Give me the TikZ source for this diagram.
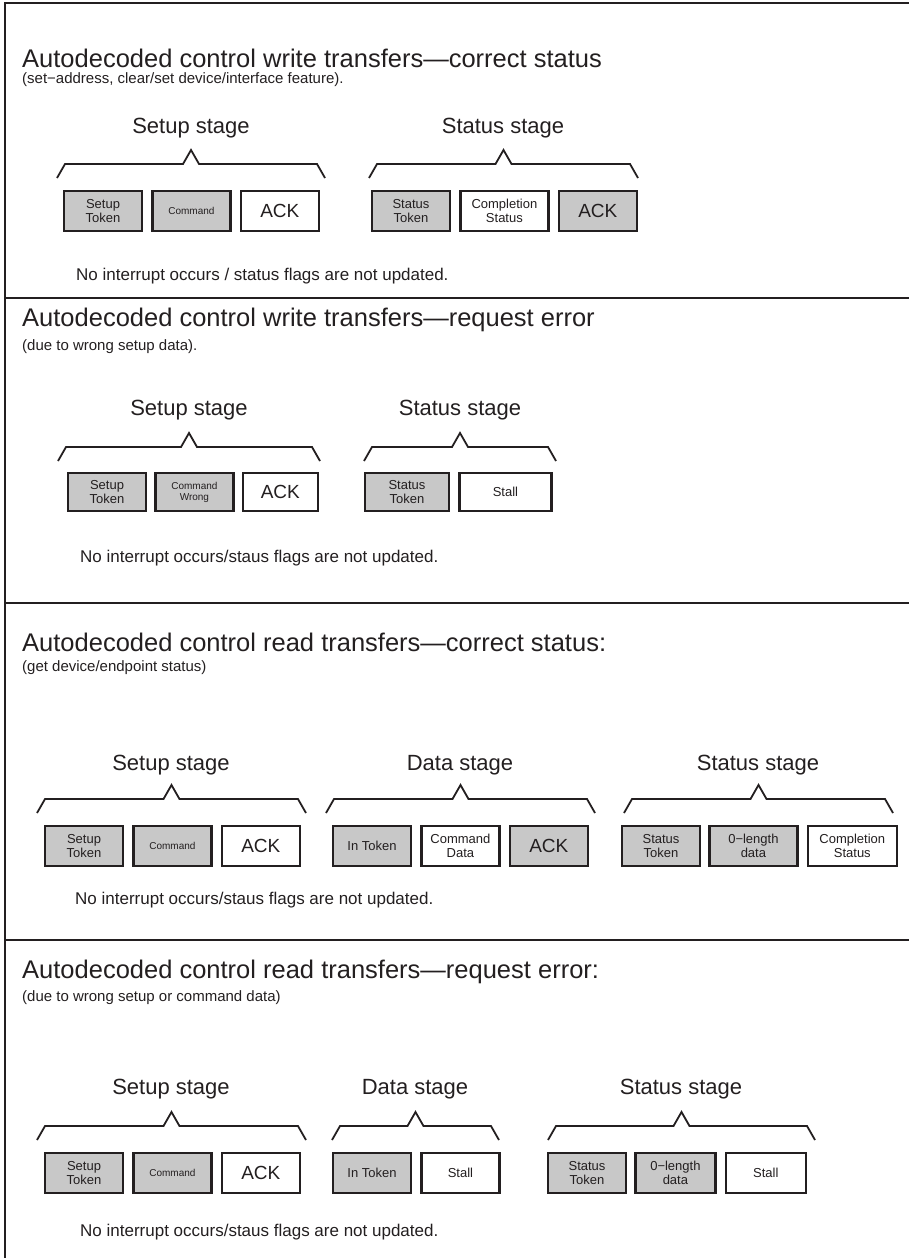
\documentclass[tikz,border=0pt]{standalone}
\usepackage{fontspec}
\setmainfont{Liberation Sans}
\usetikzlibrary{positioning}
\definecolor{ink}{HTML}{231F20}
\definecolor{tokgray}{HTML}{C8C8C8}

\begin{document}
\begin{tikzpicture}[x=1pt,y=-1pt,
    every node/.style={text=ink},
    frame/.style={ink,line width=2.4pt},
    brace/.style={ink,line width=1.8pt},
    pkt/.style={draw=ink,line width=2.4pt,minimum width=78pt,minimum height=40pt,
        inner sep=0pt,align=center,font=\fontsize{13}{14}\selectfont},
    tok/.style={pkt,fill=tokgray},
    hsk/.style={pkt,fill=white},
    tiny/.style={font=\fontsize{10}{11}\selectfont},
    big/.style={font=\fontsize{19}{20}\selectfont},
    title/.style={anchor=west,inner sep=0pt,font=\fontsize{25.5}{27}\selectfont},
    subtitle/.style={anchor=west,inner sep=0pt,font=\fontsize{15}{16}\selectfont},
    stage/.style={inner sep=0pt,font=\fontsize{22}{24}\selectfont},
    note/.style={anchor=west,inner sep=0pt,font=\fontsize{17}{18}\selectfont}]
    \useasboundingbox (0,0) rectangle (909,1258);
    % frame
    \draw[frame] (5,1258) -- (5,3) -- (909,3);
    \foreach \y in {298,603,940} \draw[frame] (5,\y) -- (909,\y);
    % braces: left/right/base
    \foreach \a/\b/\y in {57/325/164, 369/638/164,
                          58/320/447, 364/556/447,
                          37/306/799, 326/595/799, 624/893/799,
                          37/306/1126, 332/499/1126, 548/815/1126}
        \draw[brace] (\a,\y+14) -- ({\a+8},\y) -- ({(\a+\b)/2-8},\y)
            -- ({(\a+\b)/2},\y-14) -- ({(\a+\b)/2+8},\y) -- ({\b-8},\y) -- (\b,\y+14);

    % panel 1
    \node[title] (t1) at (22,58) {Autodecoded control write transfers---correct status};
    \node[subtitle] (u1) at (22,80) {(set−address, clear/set device/interface feature).};
    \node[stage] (g1a) at (191,128) {Setup stage};
    \node[stage] (g1b) at (503,128) {Status stage};
    \node[tok] (p1a) at (103,211) {Setup\\Token};
    \node[tok,tiny,right=8pt of p1a] (p1b) {Command};
    \node[hsk,big,right=8pt of p1b] (p1c) {ACK};
    \node[tok] (p1d) at (411,211) {Status\\Token};
    \node[hsk,minimum width=88pt,right=8pt of p1d] (p1e) {Completion\\Status};
    \node[tok,big,right=8pt of p1e] (p1f) {ACK};
    \node[note] (n1) at (76,276) {No interrupt occurs / status flags are not updated.};

    % panel 2
    \node[title] (t2) at (22,320) {Autodecoded control write transfers---request error};
    \node[subtitle] (u2) at (22,347) {(due to wrong setup data).};
    \node[stage] (g2a) at (189,410) {Setup stage};
    \node[stage] (g2b) at (460,410) {Status stage};
    \node[tok,minimum height=38pt] (p2a) at (107,492) {Setup\\Token};
    \node[tok,tiny,minimum height=38pt,right=7pt of p2a] (p2b) {Command\\Wrong};
    \node[hsk,big,minimum height=38pt,minimum width=75pt,right=7pt of p2b] (p2c) {ACK};
    \node[tok,minimum height=38pt,minimum width=84pt] (p2d) at (407,492) {Status\\Token};
    \node[hsk,minimum height=38pt,minimum width=92pt,right=8pt of p2d] (p2e) {Stall};
    \node[note] (n2) at (80,558) {No interrupt occurs/staus flags are not updated.};

    % panel 3
    \node[title] (t3) at (22,642) {Autodecoded control read transfers---correct status:};
    \node[subtitle] (u3) at (22,668) {(get device/endpoint status)};
    \node[stage] (g3a) at (171,765) {Setup stage};
    \node[stage] (g3b) at (460,765) {Data stage};
    \node[stage] (g3c) at (758,765) {Status stage};
    \node[tok] (p3a) at (84,846) {Setup\\Token};
    \node[tok,tiny,right=8pt of p3a] (p3b) {Command};
    \node[hsk,big,right=8pt of p3b] (p3c) {ACK};
    \node[tok] (p3d) at (372,846) {In Token};
    \node[hsk,right=8pt of p3d] (p3e) {Command\\Data};
    \node[tok,big,right=8pt of p3e] (p3f) {ACK};
    \node[tok] (p3g) at (661,846) {Status\\Token};
    \node[tok,minimum width=88pt,right=7pt of p3g] (p3h) {0−length\\data};
    \node[hsk,minimum width=89pt,right=8pt of p3h] (p3i) {Completion\\Status};
    \node[note] (n3) at (75,900) {No interrupt occurs/staus flags are not updated.};

    % panel 4
    \node[title] (t4) at (22,972) {Autodecoded control read transfers---request error:};
    \node[subtitle] (u4) at (22,998) {(due to wrong setup or command data)};
    \node[stage] (g4a) at (171,1089) {Setup stage};
    \node[stage] (g4b) at (415,1089) {Data stage};
    \node[stage] (g4c) at (681,1089) {Status stage};
    \node[tok] (p4a) at (84,1173) {Setup\\Token};
    \node[tok,tiny,right=8pt of p4a] (p4b) {Command};
    \node[hsk,big,right=8pt of p4b] (p4c) {ACK};
    \node[tok] (p4d) at (372,1173) {In Token};
    \node[hsk,right=8pt of p4d] (p4e) {Stall};
    \node[tok] (p4f) at (587,1173) {Status\\Token};
    \node[tok,minimum width=80pt,right=7pt of p4f] (p4g) {0−length\\data};
    \node[hsk,minimum width=80pt,right=8pt of p4g] (p4h) {Stall};
    \node[note] (n4) at (80,1232) {No interrupt occurs/staus flags are not updated.};
\end{tikzpicture}
\end{document}
